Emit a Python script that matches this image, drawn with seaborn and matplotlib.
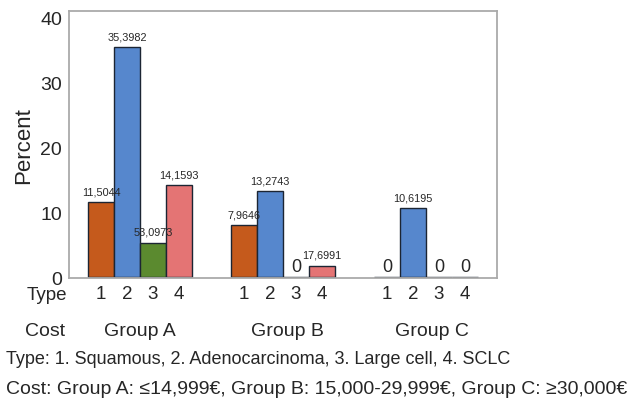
import matplotlib
matplotlib.use("Agg")
import matplotlib.pyplot as plt
import seaborn as sns
import pandas as pd

groups = ["Group A", "Group B", "Group C"]
types = ["1", "2", "3", "4"]
values_A = [11.5044, 35.3982, 5.3097, 14.1593]
values_B = [7.9646, 13.2743, 0.0, 1.7699]
values_C = [0.0, 10.6195, 0.0, 0.0]
labels_A = ["11,5044", "35,3982", "53,0973", "14,1593"]
labels_B = ["7,9646", "13,2743", "0", "17,6991"]
labels_C = ["0", "10,6195", "0", "0"]
colors = ["#C55A1C", "#5687CD", "#5B8A2F", "#E47474"]
yticks = [0, 10, 20, 30, 40]
note1 = "Type: 1. Squamous, 2. Adenocarcinoma, 3. Large cell, 4. SCLC"
note2 = "Cost: Group A: \u226414,999\u20ac, Group B: 15,000-29,999\u20ac, Group C: \u226530,000\u20ac"

rows = []
for g, vals, labs in zip(groups, [values_A, values_B, values_C], [labels_A, labels_B, labels_C]):
    for t, v, l in zip(types, vals, labs):
        rows.append({"Cost": g, "Type": t, "Percent": v, "label": l})
df = pd.DataFrame(rows)

sns.set_theme(style="white")
plt.rcParams["font.family"] = ["Liberation Sans", "DejaVu Sans"]

fig = plt.figure(figsize=(6.3, 4.06), dpi=100)
ax = fig.add_axes([69 / 630, 1 - 279 / 406, (497 - 69) / 630, (279 - 12) / 406])

sns.barplot(data=df, x="Cost", y="Percent", hue="Type", palette=colors,
            width=0.727, edgecolor="#1c2533", linewidth=1.0, ax=ax,
            legend=False, errorbar=None, saturation=1)

ax.set_xlim(-0.4965, 2.4965)
ax.set_ylim(-0.15, 41)
ax.set_yticks(yticks)
ax.set_yticklabels([str(v) for v in yticks], fontsize=14)
ax.set_ylabel("Percent", fontsize=16, labelpad=4)
ax.set_xlabel("")

# bar centers & labels
centers = []
tick_labels = []
for ti, cont in enumerate(ax.containers):
    for gi, bar in enumerate(cont):
        cx = bar.get_x() + bar.get_width() / 2
        h = bar.get_height()
        centers.append(cx)
        tick_labels.append(types[ti])
        lab = df[(df["Type"] == types[ti]) & (df["Cost"] == groups[gi])]["label"].iloc[0]
        if h == 0:
            ax.annotate(lab, (cx, h), xytext=(0, 7.3), textcoords="offset points",
                        ha="center", va="center", fontsize=13)
        else:
            ax.annotate(lab, (cx, h), xytext=(0, 7.8), textcoords="offset points",
                        ha="center", va="center", fontsize=7.8,
                        family=["Liberation Sans Narrow", "Liberation Sans", "DejaVu Sans"])

ax.set_xticks(centers)
ax.set_xticklabels(tick_labels, fontsize=13.5)
ax.tick_params(axis="x", length=3, width=0.8, color="#999999", pad=2)
ax.tick_params(axis="y", length=0, pad=5)

for s in ax.spines.values():
    s.set_color("#aaaaaa")
    s.set_linewidth(1.3)

# row labels below axis
fig.text(27 / 630, 1 - 296 / 406, "Type", fontsize=13.5, ha="left", va="center")
fig.text(25 / 630, 1 - 332 / 406, "Cost", fontsize=14, ha="left", va="center")
group_shift_px = [0, 4, 6]
for gi, g in enumerate(groups):
    xdisp = ax.transData.transform((gi, 0))[0] + group_shift_px[gi]
    fig.text(xdisp / fig.dpi / 6.3, 1 - 332 / 406, g, fontsize=14, ha="center", va="center")

fig.text(6 / 630, 1 - 360 / 406, note1, fontsize=13, ha="left", va="center")
fig.text(6 / 630, 1 - 390 / 406, note2, fontsize=14, ha="left", va="center")

fig.savefig("out.png", dpi=100)
